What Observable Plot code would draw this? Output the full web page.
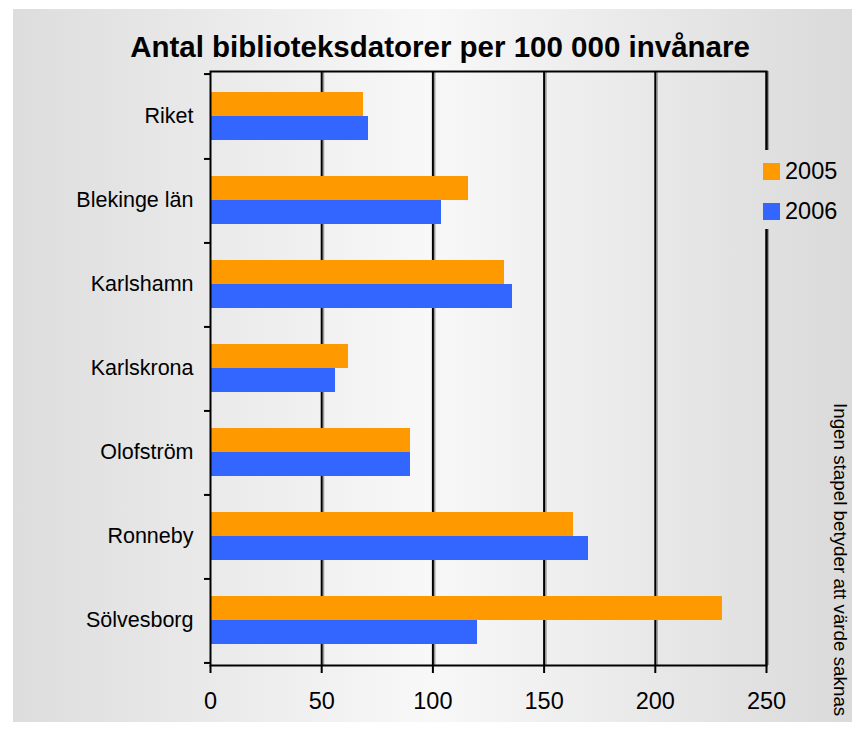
<!DOCTYPE html>
<html>
<head>
<meta charset="utf-8">
<script src="https://cdn.jsdelivr.net/npm/d3@7"></script>
<script src="https://cdn.jsdelivr.net/npm/@observablehq/plot@0.6"></script>
<style>
  html, body { margin: 0; padding: 0; background: #ffffff; }
  #wrap { position: relative; width: 852px; height: 730px; overflow: hidden;
          font-family: "Liberation Sans", Arial, sans-serif; color: #000; }
  .grad { background: linear-gradient(to right, #dcdcdc 0px, #f8f8f8 430px, #dadada 852px);
          background-size: 852px 730px; }
  #panel { position: absolute; left: 13px; top: 9px; width: 839px; height: 713px;
           background-position: -13px -9px; }
  #title { position: absolute; left: 0; width: 880px; top: 31.5px; text-align: center;
           font-size: 29.5px; font-weight: bold; line-height: 1; white-space: nowrap; }
  #chart { position: absolute; left: 0; top: 0; }
  #legend { position: absolute; left: 758px; top: 150px; width: 94px; height: 79px;
            background-position: -758px -150px; }
  .sw { position: absolute; left: 5px; width: 17px; height: 17px; }
  .lt { position: absolute; left: 27px; font-size: 23.5px; line-height: 1; white-space: nowrap; }
  #note { position: absolute; left: 829px; top: 403px; width: 22px; height: 320px;
          writing-mode: vertical-rl; font-size: 18.8px; line-height: 22px; white-space: nowrap; }
</style>
</head>
<body>
<div id="wrap">
  <div id="panel" class="grad"></div>
  <div id="title"></div>
  <div id="chart"></div>
  <div id="legend" class="grad"></div>
  <div id="note"></div>
</div>
<script>
const titleText = "Antal biblioteksdatorer per 100 000 invånare";
const noteText = "Ingen stapel betyder att värde saknas";
const categories = ["Riket", "Blekinge län", "Karlshamn", "Karlskrona", "Olofström", "Ronneby", "Sölvesborg"];
const years = ["2005", "2006"];
const values2005 = [69, 116, 132, 62, 90, 163, 230];
const values2006 = [71, 104, 136, 56, 90, 170, 120];
const xTicks = [0, 50, 100, 150, 200, 250];
const colors = ["#FF9900", "#3366FF"];

const data2005 = categories.map((c, i) => ({cat: c, value: values2005[i]}));
const data2006 = categories.map((c, i) => ({cat: c, value: values2006[i]}));

const W = 852, H = 730;
const mL = 210, mR = 86, mT = 71, mB = 65;
const bw = (H - mT - mB) / categories.length;
const barH = 24.5;
const half = bw / 2;

const font = '"Liberation Sans", Arial, sans-serif';

const plot = Plot.plot({
  width: W,
  height: H,
  marginLeft: mL,
  marginRight: mR,
  marginTop: mT,
  marginBottom: mB,
  style: {background: "transparent", fontFamily: font, color: "#000", overflow: "visible"},
  x: {domain: [0, 250], label: null},
  y: {domain: categories, padding: 0, label: null},
  marks: [
    Plot.gridX(xTicks.slice(1), {stroke: "#9a9a9a", strokeOpacity: 1, strokeWidth: 1.5, dx: 1.8}),
    Plot.gridX(xTicks.slice(1), {stroke: "#000", strokeOpacity: 1, strokeWidth: 2}),
    Plot.barX(data2005, {x: "value", y: "cat", fill: colors[0], insetTop: half - barH, insetBottom: half, shapeRendering: "crispEdges"}),
    Plot.barX(data2006, {x: "value", y: "cat", fill: colors[1], insetTop: half, insetBottom: half - barH, shapeRendering: "crispEdges"}),
    Plot.frame({stroke: "#000", strokeWidth: 2}),
    Plot.axisY({tickSize: 0, tickPadding: 17, fontSize: 21.5, label: null}),
    Plot.axisY({tickSize: 6, strokeWidth: 2, tickFormat: () => "", label: null, dy: half}),
    Plot.axisY([categories[0]], {tickSize: 6, strokeWidth: 2, tickFormat: () => "", label: null, dy: -half}),
    Plot.axisX(xTicks, {tickSize: 8, tickPadding: 19, fontSize: 23.5, strokeWidth: 2, label: null})
  ]
});
document.getElementById("chart").appendChild(plot);
document.getElementById("title").textContent = titleText;
document.getElementById("note").textContent = noteText;

const legend = document.getElementById("legend");
years.forEach((y, i) => {
  const sw = document.createElement("div");
  sw.className = "sw";
  sw.style.top = (12.7 + i * 40) + "px";
  sw.style.background = colors[i];
  legend.appendChild(sw);
  const t = document.createElement("div");
  t.className = "lt";
  t.style.top = (9.8 + i * 40) + "px";
  t.textContent = y;
  legend.appendChild(t);
});
</script>
</body>
</html>
